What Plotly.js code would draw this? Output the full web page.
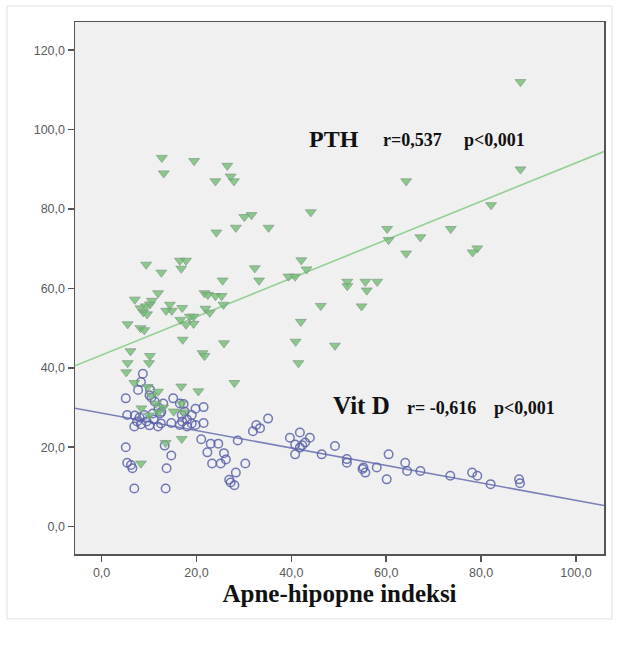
<!DOCTYPE html>
<html>
<head>
<meta charset="utf-8">
<script src="https://cdn.plot.ly/plotly-3.0.1.min.js"></script>
<style>
  html, body { margin: 0; padding: 0; background: #ffffff; }
  #chart { width: 621px; height: 657px; }
</style>
</head>
<body>
<div id="chart"></div>
<script>
// ---- Data ----
// PTH (green triangles): apnea-hypopnea index (x) vs PTH (y)
const pthAHI = [88.3,88.3,12.7,13.1,19.5,26.5,24.0,27.2,27.9,64.2,44.1,82.1,30.1,31.6,28.3,35.2,24.2,60.2,60.5,67.2,73.6,64.2,78.2,79.2,9.4,12.6,16.5,17.8,16.8,32.3,33.2,25.5,42.1,43.2,39.4,40.8,51.8,51.8,55.6,55.9,58.1,54.8,46.2,42.0,49.2,40.9,41.5,25.8,28.0,21.3,21.7,20.4,16.8,17.1,10.2,10.0,6.1,5.5,5.2,5.5,7.0,8.2,9.0,11.9,10.6,14.4,14.8,13.6,17.0,16.6,18.6,19.4,17.8,19.4,21.7,22.4,24.0,25.3,21.9,22.8,25.7,8.2,8.8,9.3,9.6,10.2,6.9,9.7,11.9,8.4,8.3,16.9,13.5,13.0,15.2,10.5,11.5,12.0,10.0,16.9,17.3];
const pthValues = [112.0,90.0,92.9,89.0,92.1,90.9,87.0,88.2,87.0,87.0,79.2,81.0,78.0,78.5,75.3,75.3,74.1,75.0,72.2,72.9,75.0,68.8,69.1,70.1,66.0,64.0,67.0,67.0,65.0,65.1,62.0,62.0,67.1,64.8,63.0,63.0,61.7,60.6,61.7,59.5,61.7,55.5,55.6,51.6,45.6,46.6,41.2,46.2,36.2,43.7,43.0,34.1,35.3,47.1,43.0,41.2,44.2,41.2,38.9,51.0,57.2,50.0,49.5,58.8,56.9,55.9,54.4,54.4,55.1,52.1,52.9,52.9,50.9,51.1,58.8,58.4,58.1,58.1,54.9,53.9,55.9,55.0,54.0,55.5,53.5,56.0,36.2,35.2,34.0,29.8,15.9,22.1,21.1,30.0,29.0,33.0,31.0,28.8,28.0,31.0,28.8];

// Vit D (blue open circles)
const vitdAHI = [8.7,8.3,7.7,10.1,5.1,15.1,11.2,19.8,21.5,17.3,5.4,6.9,8.3,10.1,11.9,9.0,10.8,12.6,14.7,16.5,18.0,19.8,21.5,19.0,16.9,5.1,5.4,6.5,13.3,14.7,13.7,6.9,13.5,21.0,23.0,24.6,22.3,25.8,23.3,25.1,26.2,30.3,28.3,26.9,28.0,27.2,28.7,31.9,32.6,33.4,35.1,9.5,11.0,12.0,10.5,10.2,12.5,17.0,18.0,19.0,17.5,16.5,8.0,7.0,13.0,12.3,6.2,7.5,39.7,41.8,43.9,40.8,41.8,42.9,40.8,46.4,49.2,51.7,51.7,55.2,55.6,58.0,60.5,60.1,64.0,64.4,67.2,73.5,78.1,79.2,82.0,88.0,88.2,42.3,55.0];
const vitdValues = [38.5,36.4,34.4,33.1,32.3,32.3,31.5,29.7,30.1,30.9,28.1,25.2,25.8,25.5,25.2,28.1,28.5,28.9,26.1,25.6,25.2,25.6,26.1,28.1,28.1,20.0,16.1,14.7,20.4,17.9,14.7,9.6,9.6,22.0,20.9,20.9,18.7,18.5,15.9,15.9,16.9,15.9,13.6,11.8,10.4,11.1,21.7,24.0,25.6,24.8,27.2,26.5,27.0,30.0,32.5,34.5,26.0,26.5,27.0,26.0,29.0,31.0,27.5,28.0,31.0,28.5,15.5,26.5,22.4,23.7,22.4,20.7,19.9,21.2,18.2,18.2,20.3,17.0,16.1,14.9,13.6,14.9,18.2,11.9,16.1,14.0,14.0,12.8,13.6,12.8,10.7,11.9,10.9,20.5,14.5];

// Fit lines (intercept at x = 0, slope)
const pthFit = [43.2, 0.484];
const vitdFit = [28.6, -0.22];

// Axis ticks
const xTickVals = [0, 20, 40, 60, 80, 100];
const yTickVals = [0, 20, 40, 60, 80, 100, 120];
const xRange = [-5.6, 105.9];
const yRange = [-6.9, 127.1];

// Texts
const xTitle = 'Apne-hipopne indeksi';
const pthLabel = 'PTH';
const pthStats = ['r=0,537', 'p<0,001'];
const vitdLabel = 'Vit D';
const vitdStats = ['r= -0,616', 'p<0,001'];

// ---- Build traces ----
const fitX = xRange.slice();
const pthFitY = fitX.map(x => pthFit[0] + pthFit[1] * x);
const vitdFitY = fitX.map(x => vitdFit[0] + vitdFit[1] * x);

const serif = '"Liberation Serif", "Times New Roman", serif';

const traces = [
  {
    x: fitX, y: pthFitY, type: 'scatter', mode: 'lines',
    line: { color: '#93d193', width: 1.6 }, hoverinfo: 'skip', showlegend: false
  },
  {
    x: fitX, y: vitdFitY, type: 'scatter', mode: 'lines',
    line: { color: '#7a80b8', width: 1.6 }, hoverinfo: 'skip', showlegend: false
  },
  {
    x: vitdAHI, y: vitdValues, type: 'scatter', mode: 'markers', name: 'Vit D',
    marker: { symbol: 'circle-open', size: 8.5, color: '#5a63aa', line: { width: 1.5, color: '#5a63aa' }, opacity: 0.85 },
    showlegend: false
  },
  {
    x: pthAHI, y: pthValues, type: 'scatter', mode: 'markers', name: 'PTH',
    marker: { symbol: 'triangle-down', size: 9.5, color: 'rgba(110,188,112,0.78)', line: { width: 0.8, color: 'rgba(130,155,135,0.9)' } },
    showlegend: false
  }
];

const tickFont = { family: 'Arial, "Liberation Sans", sans-serif', size: 12.5, color: '#5a5a5a' };

const layout = {
  width: 621, height: 657,
  margin: { l: 75, r: 17, t: 22, b: 103 },
  paper_bgcolor: '#ffffff',
  plot_bgcolor: '#f0f0f0',
  separators: ',.',
  showlegend: false,
  xaxis: {
    range: xRange, tickvals: xTickVals, tickformat: '.1f',
    ticks: 'outside', ticklen: 6, tickwidth: 1.5, tickcolor: '#555',
    showline: true, linecolor: '#555', linewidth: 1.5, mirror: true,
    showgrid: false, zeroline: false, tickfont: tickFont,
    title: { text: '<b>' + xTitle + '</b>', font: { family: serif, size: 25, color: '#111' }, standoff: 2 }
  },
  yaxis: {
    range: yRange, tickvals: yTickVals, tickformat: '.1f',
    ticks: 'outside', ticklen: 6, tickwidth: 1.5, tickcolor: '#555',
    showline: true, linecolor: '#555', linewidth: 1.5, mirror: true,
    showgrid: false, zeroline: false, tickfont: tickFont
  },
  annotations: [
    { x: 43.3, y: 97.7, xref: 'x', yref: 'y', xanchor: 'left', yanchor: 'middle', showarrow: false,
      text: '<b>' + pthLabel + '</b>', font: { family: serif, size: 24, color: '#111' } },
    { x: 59.0, y: 97.3, xref: 'x', yref: 'y', xanchor: 'left', yanchor: 'middle', showarrow: false,
      text: '<b>' + pthStats[0] + '</b>', font: { family: serif, size: 18, color: '#111' } },
    { x: 76.0, y: 97.3, xref: 'x', yref: 'y', xanchor: 'left', yanchor: 'middle', showarrow: false,
      text: '<b>' + pthStats[1] + '</b>', font: { family: serif, size: 18, color: '#111' } },
    { x: 48.4, y: 30.4, xref: 'x', yref: 'y', xanchor: 'left', yanchor: 'middle', showarrow: false,
      text: '<b>' + vitdLabel + '</b>', font: { family: serif, size: 25, color: '#111' } },
    { x: 64.0, y: 29.9, xref: 'x', yref: 'y', xanchor: 'left', yanchor: 'middle', showarrow: false,
      text: '<b>' + vitdStats[0] + '</b>', font: { family: serif, size: 18, color: '#111' } },
    { x: 82.2, y: 29.9, xref: 'x', yref: 'y', xanchor: 'left', yanchor: 'middle', showarrow: false,
      text: '<b>' + vitdStats[1] + '</b>', font: { family: serif, size: 18, color: '#111' } }
  ],
  shapes: [
    { type: 'rect', xref: 'paper', yref: 'paper', x0: -0.1285, x1: 1.015, y0: -0.122, y1: 1.03,
      line: { color: '#e0e0e0', width: 1 }, fillcolor: 'rgba(0,0,0,0)', layer: 'below' }
  ]
};

Plotly.newPlot('chart', traces, layout, { displayModeBar: false, staticPlot: true });
</script>
</body>
</html>
